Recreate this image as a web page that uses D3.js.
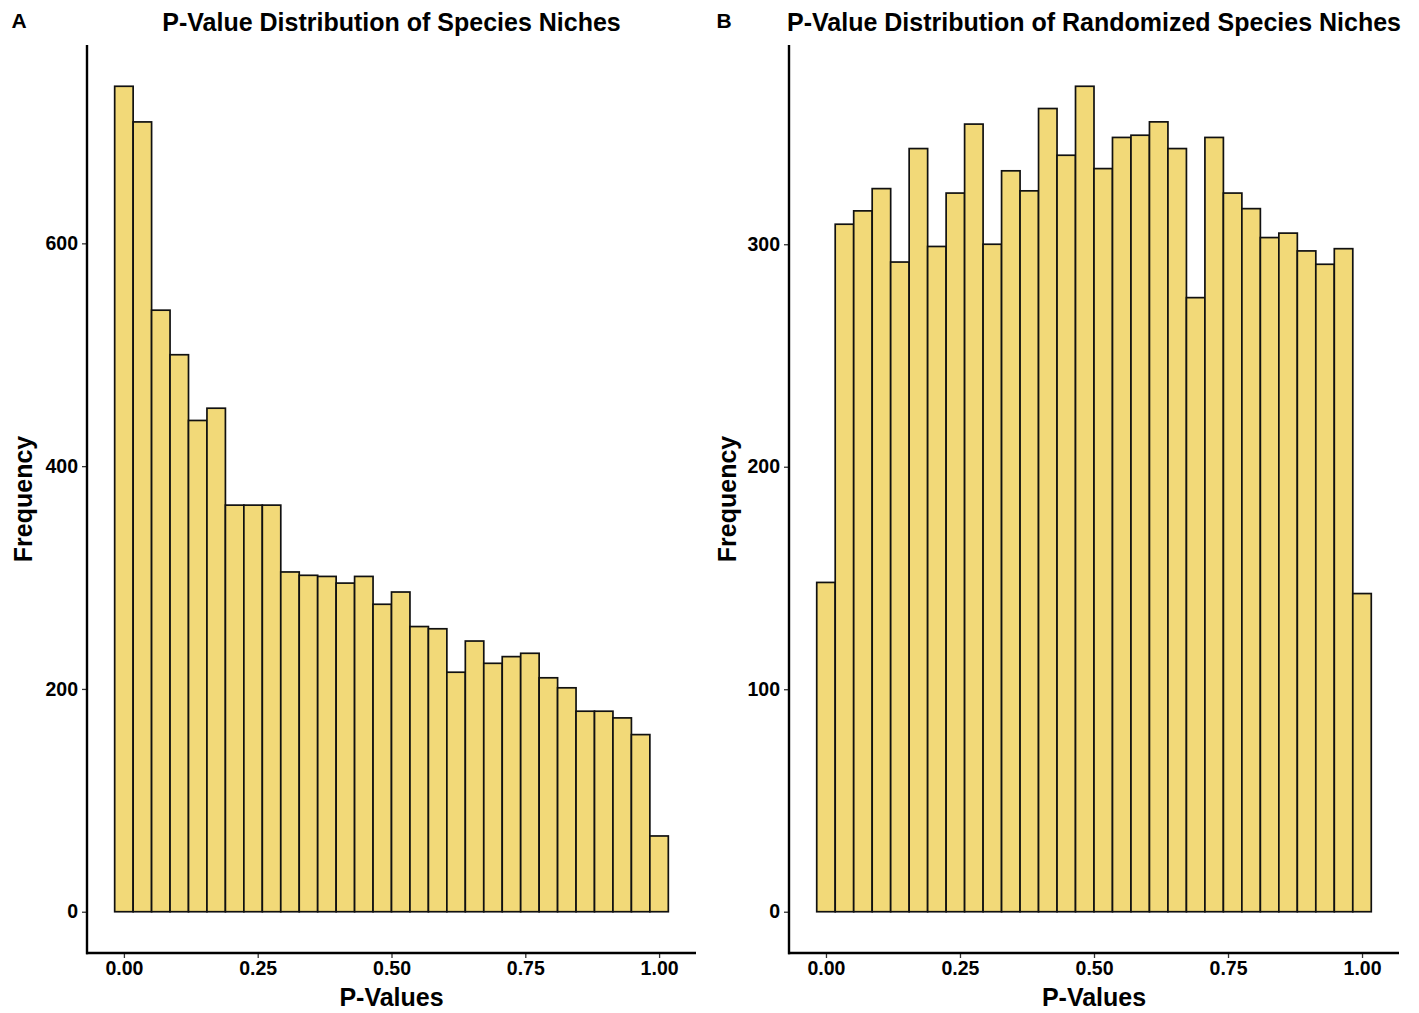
<!DOCTYPE html>
<html>
<head>
<meta charset="utf-8">
<script src="https://cdn.jsdelivr.net/npm/d3@7/dist/d3.min.js"></script>
<style>
  html, body { margin: 0; padding: 0; background: #ffffff; }
  text { font-family: "Liberation Sans", Arial, Helvetica, sans-serif; }
</style>
</head>
<body>
<svg id="chart" width="1419" height="1013"></svg>
<script>
// ---- Data ----
const binCount = 30;
const binWidth = 1 / 29;               // ggplot default 30 bins over [0,1]
const binCenters = d3.range(binCount).map(i => i * binWidth);

const countsObserved = [741, 709, 540, 500, 441, 452, 365, 365, 365, 305,
                        302, 301, 295, 301, 276, 287, 256, 254, 215, 243,
                        223, 229, 232, 210, 201, 180, 180, 174, 159, 68];

const countsRandomized = [148, 309, 315, 325, 292, 343, 299, 323, 354, 300,
                          333, 324, 361, 340, 371, 334, 348, 349, 355, 343,
                          276, 348, 323, 316, 303, 305, 297, 291, 298, 143];

const xTicks = [0, 0.25, 0.5, 0.75, 1];
const yTicksObserved = [0, 200, 400, 600];
const yTicksRandomized = [0, 100, 200, 300];

const panelTags = ["A", "B"];
const panelTitles = ["P-Value Distribution of Species Niches",
                     "P-Value Distribution of Randomized Species Niches"];
const xTitle = "P-Values";
const yTitle = "Frequency";

// ---- Layout ----
const svg = d3.select("#chart");
const fillColor = "#F2D978";
const panels = [
  { left: 87, right: 696, top: 45, bottom: 953, counts: countsObserved, yTicks: yTicksObserved,
    tagX: 19, yTitleX: 23 },
  { left: 789, right: 1399, top: 45, bottom: 953, counts: countsRandomized, yTicks: yTicksRandomized,
    tagX: 724, yTitleX: 727 }
];

panels.forEach((p, idx) => {
  const g = svg.append("g");
  const data = binCenters.map((c, i) => ({ x0: c - binWidth / 2, x1: c + binWidth / 2, n: p.counts[i] }));
  const xMin = -binWidth / 2, xMax = 1 + binWidth / 2;
  const xPad = 0.05 * (xMax - xMin);
  const x = d3.scaleLinear().domain([xMin - xPad, xMax + xPad]).range([p.left, p.right]);
  const yMax = d3.max(p.counts);
  const yPad = 0.05 * yMax;
  const y = d3.scaleLinear().domain([-yPad, yMax + yPad]).range([p.bottom, p.top]);

  // bars
  g.selectAll("rect.bar").data(data).join("rect")
    .attr("class", "bar")
    .attr("x", d => x(d.x0))
    .attr("width", d => x(d.x1) - x(d.x0))
    .attr("y", d => y(d.n))
    .attr("height", d => y(0) - y(d.n))
    .attr("fill", fillColor)
    .attr("stroke", "#111")
    .attr("stroke-width", 1.7);

  // x axis
  const xAxis = d3.axisBottom(x).tickValues(xTicks).tickFormat(d3.format(".2f")).tickSize(5).tickPadding(3);
  const gx = g.append("g").attr("transform", `translate(0,${p.bottom})`).call(xAxis);
  gx.select(".domain").remove();
  gx.append("line").attr("x1", p.left - 1).attr("x2", p.right).attr("y1", 0).attr("y2", 0)
    .attr("stroke", "#000").attr("stroke-width", 2.4);
  gx.selectAll(".tick line").attr("stroke", "#333").attr("stroke-width", 1.3);
  gx.selectAll(".tick text").attr("fill", "#000").attr("font-size", 19.5).attr("font-weight", "bold")
    .attr("font-family", "Liberation Sans, Arial, sans-serif");

  // y axis
  const yAxis = d3.axisLeft(y).tickValues(p.yTicks).tickFormat(d3.format("d")).tickSize(5).tickPadding(4);
  const gy = g.append("g").attr("transform", `translate(${p.left},0)`).call(yAxis);
  gy.select(".domain").remove();
  gy.append("line").attr("x1", 0).attr("x2", 0).attr("y1", p.top).attr("y2", p.bottom + 1.2)
    .attr("stroke", "#000").attr("stroke-width", 2.4);
  gy.selectAll(".tick line").attr("stroke", "#333").attr("stroke-width", 1.3);
  gy.selectAll(".tick text").attr("fill", "#000").attr("font-size", 19.5).attr("font-weight", "bold")
    .attr("font-family", "Liberation Sans, Arial, sans-serif");

  // titles
  g.append("text").attr("x", (p.left + p.right) / 2).attr("y", 31)
    .attr("text-anchor", "middle").attr("font-size", 25).attr("font-weight", "bold")
    .attr("fill", "#000").text(panelTitles[idx]);
  g.append("text").attr("x", p.tagX).attr("y", 28)
    .attr("text-anchor", "middle").attr("font-size", 21).attr("font-weight", "bold")
    .attr("fill", "#000").text(panelTags[idx]);
  g.append("text").attr("x", (p.left + p.right) / 2).attr("y", 1006)
    .attr("text-anchor", "middle").attr("font-size", 25).attr("font-weight", "bold")
    .attr("fill", "#000").text(xTitle);
  g.append("text")
    .attr("transform", `translate(${p.yTitleX + 9},${(p.top + p.bottom) / 2}) rotate(-90)`)
    .attr("text-anchor", "middle").attr("font-size", 25).attr("font-weight", "bold")
    .attr("fill", "#000").text(yTitle);
});
</script>
</body>
</html>
